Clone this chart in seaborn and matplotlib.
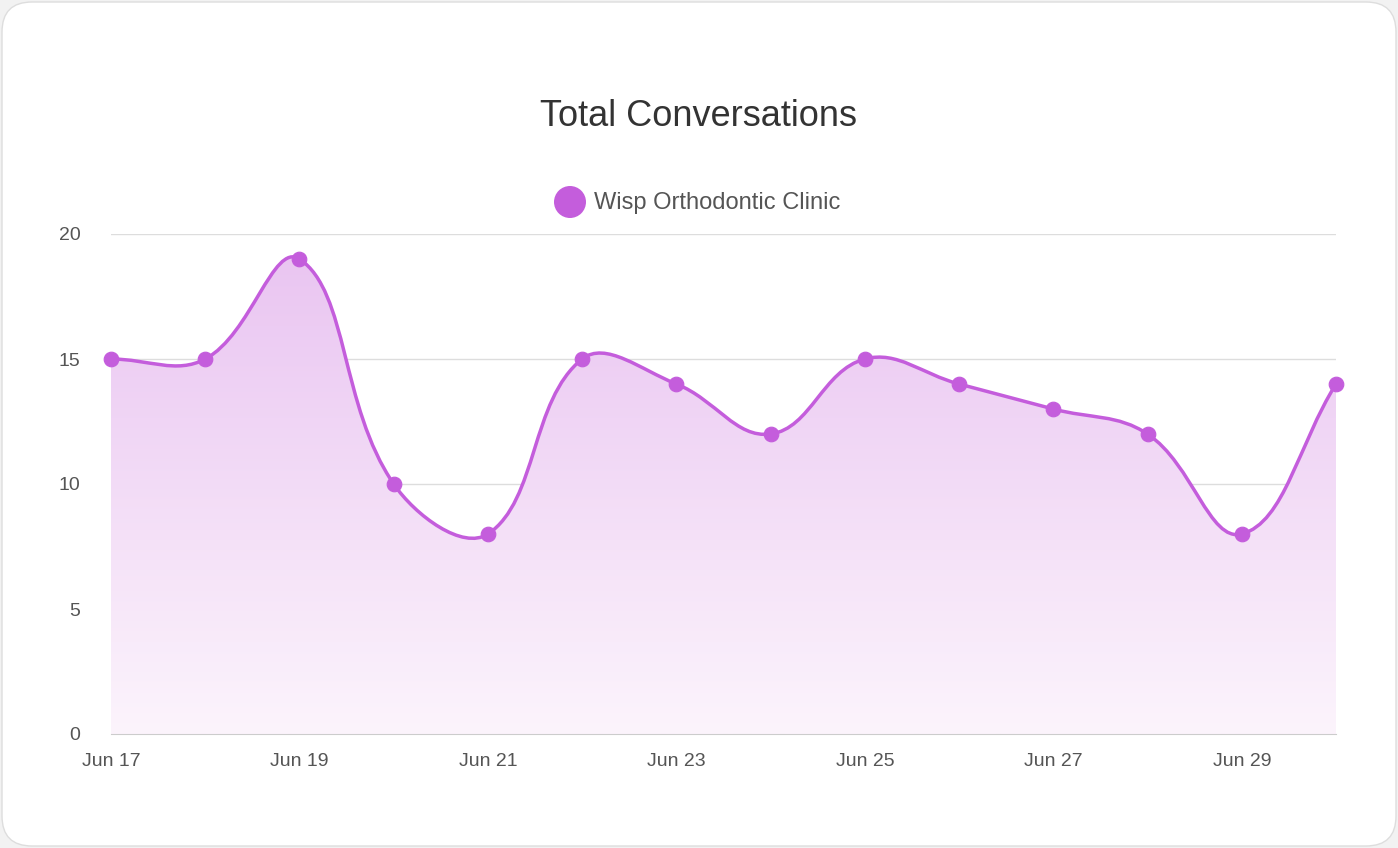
import matplotlib
matplotlib.use("Agg")
import matplotlib.pyplot as plt
import seaborn as sns
import numpy as np
import pandas as pd
from matplotlib.path import Path
from matplotlib.patches import PathPatch, FancyBboxPatch, Circle
from matplotlib.colors import LinearSegmentedColormap

days = ["Jun 17","Jun 18","Jun 19","Jun 20","Jun 21","Jun 22","Jun 23","Jun 24","Jun 25","Jun 26","Jun 27","Jun 28","Jun 29","Jun 30"]
conversations = [15, 15, 19, 10, 8, 15, 14, 12, 15, 14, 13, 12, 8, 14]
yticks = [0, 5, 10, 15, 20]

color = "#c45ddc"
plt.rcParams["font.family"] = "Liberation Sans"
fig = plt.figure(figsize=(13.98, 8.48), dpi=100)
fig.patch.set_facecolor("#f2f2f2")
W, H = 1398, 848
bg = fig.add_axes([0, 0, 1, 1], zorder=0)
bg.axis("off"); bg.set_xlim(0, W); bg.set_ylim(0, H)
bg.add_patch(FancyBboxPatch((2, 2), W-4, H-4, boxstyle="round,pad=0,rounding_size=30",
                            facecolor="white", edgecolor="#dddddd", lw=1))

ax = fig.add_axes([111/W, (H-734)/H, (1336-111)/W, 500/H], zorder=1)
ax.set_facecolor("none")
df = pd.DataFrame({"x": np.arange(len(days)), "y": conversations})

xs = df["x"].values.astype(float); ys = df["y"].values.astype(float)
t = 0.4
verts = [(xs[0], ys[0])]; codes = [Path.MOVETO]
def ctrl(i):
    p0 = (xs[max(i-1,0)], ys[max(i-1,0)]); p1 = (xs[i], ys[i]); p2 = (xs[min(i+1,len(xs)-1)], ys[min(i+1,len(xs)-1)])
    d01 = np.hypot(p1[0]-p0[0], (p1[1]-p0[1])*0.3); d12 = np.hypot(p2[0]-p1[0], (p2[1]-p1[1])*0.3)
    fa = t*d01/(d01+d12) if d01+d12 else 0; fb = t*d12/(d01+d12) if d01+d12 else 0
    prev = (p1[0]-fa*(p2[0]-p0[0]), p1[1]-fa*(p2[1]-p0[1]))
    nxt = (p1[0]+fb*(p2[0]-p0[0]), p1[1]+fb*(p2[1]-p0[1]))
    return prev, nxt
cps = [ctrl(i) for i in range(len(xs))]
for i in range(1, len(xs)):
    verts += [cps[i-1][1], cps[i][0], (xs[i], ys[i])]; codes += [Path.CURVE4]*3
line_path = Path(verts, codes)
fill_path = Path(verts + [(xs[-1], 0), (xs[0], 0), (xs[0], ys[0])], codes + [Path.LINETO, Path.LINETO, Path.CLOSEPOLY])

grad = np.linspace(0, 1, 256).reshape(-1, 1)
cmap = LinearSegmentedColormap.from_list("g", ["#fcf4fc", "#e9c3f1"])
im = ax.imshow(grad, extent=[0, len(xs)-1, 0, 20], origin="lower", aspect="auto", cmap=cmap, zorder=1)
clip = PathPatch(fill_path, transform=ax.transData, facecolor="none", edgecolor="none")
ax.add_patch(clip); im.set_clip_path(clip)
ax.add_patch(PathPatch(line_path, facecolor="none", edgecolor=color, lw=2.5, zorder=3))
sns.scatterplot(data=df, x="x", y="y", color=color, s=110, edgecolor=color, zorder=4, ax=ax, legend=False, clip_on=False)

ax.set_xlim(0, len(xs)-1); ax.set_ylim(0, 20)
ax.set_yticks(yticks)
ax.set_xticks(range(0, len(days), 2)); ax.set_xticklabels(days[::2])
ax.grid(axis="y", color="#dddddd", lw=1); ax.set_axisbelow(True)
for s in ["top", "right", "left"]: ax.spines[s].set_visible(False)
ax.spines["bottom"].set_color("#cccccc")
ax.tick_params(length=0, labelsize=14, labelcolor="#555555", pad=14)
ax.tick_params(axis="y", pad=22)
ax.set_xlabel(""); ax.set_ylabel("")
bg.text(W/2, H-117, "Total Conversations", ha="center", va="center", fontsize=26, color="#333333")
bg.add_patch(Circle((570, H-202), 16, facecolor=color, edgecolor="none"))
bg.text(594, H-203, "Wisp Orthodontic Clinic", ha="left", va="center", fontsize=17, color="#555555")
fig.savefig("out.png", dpi=100)
